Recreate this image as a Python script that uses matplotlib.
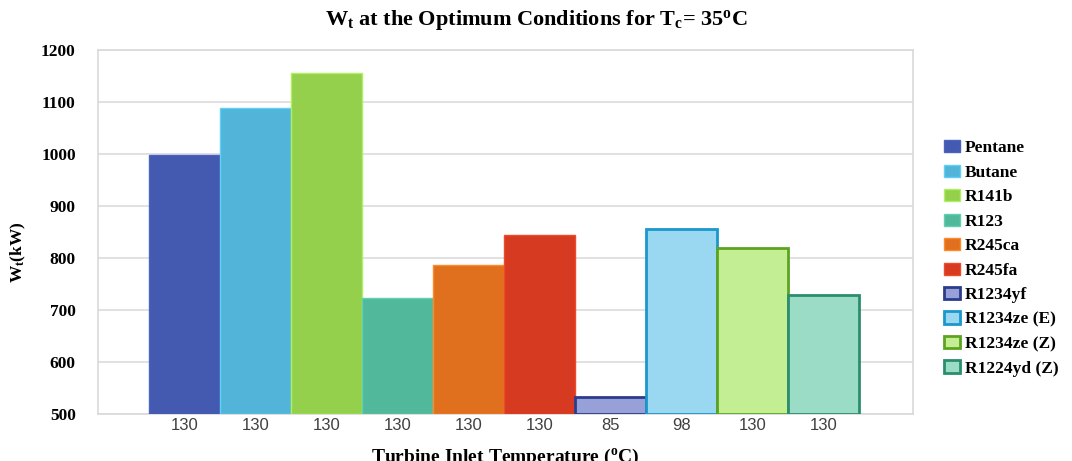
import matplotlib.pyplot as plt
from matplotlib.patches import Patch

plt.rcParams['font.family'] = ['Liberation Serif', 'DejaVu Serif']
plt.rcParams['mathtext.fontset'] = 'custom'
plt.rcParams['mathtext.rm'] = 'Liberation Serif:bold'
plt.rcParams['mathtext.it'] = 'Liberation Serif:bold'
plt.rcParams['mathtext.bf'] = 'Liberation Serif:bold'

fluids = ['Pentane', 'Butane', 'R141b', 'R123', 'R245ca', 'R245fa',
          'R1234yf', 'R1234ze (E)', 'R1234ze (Z)', 'R1224yd (Z)']
work = [999, 1088, 1156, 723, 786, 845, 532, 855, 819, 728]
tit = ['130', '130', '130', '130', '130', '130', '85', '98', '130', '130']
face_colors = ['#4459b0', '#52b4d8', '#94d04c', '#52b89c', '#e0701e', '#d63a20',
               '#98a0d8', '#9ad8f2', '#c4ee94', '#9adcc6']
edge_colors = ['#4a62c0', '#60d0f8', '#b0f060', '#60d0b0', '#ff8a2a', '#f04a2a',
               '#2c3c8c', '#1a98cc', '#5ca420', '#2a8e6e']
edge_widths = [1, 1, 1, 1, 1, 1, 2, 2, 2, 2]

fig = plt.figure(figsize=(10.72, 4.61), dpi=100)
ax = fig.add_axes([0.0914, 0.102, 0.7603, 0.7895])

x = list(range(len(fluids)))
ax.bar(x, [w - 500 for w in work], bottom=500, width=1.0,
       color=face_colors, edgecolor=edge_colors, linewidth=edge_widths, zorder=3)

ax.set_ylim(500, 1200)
ax.set_xlim(-1.22, 10.26)
ax.set_yticks(range(500, 1201, 100))
ax.yaxis.grid(True, color='#dcdcdc', linewidth=1.2, zorder=0)
for s in ax.spines.values():
    s.set_color('#d9d9d9')
    s.set_linewidth(1.2)
ax.tick_params(axis='both', length=0)
ax.tick_params(axis='y', pad=16, labelsize=12.5)
for lab in ax.get_yticklabels():
    lab.set_fontweight('bold')

ax.set_xticks(x)
ax.set_xticklabels(tit, family='Liberation Sans', fontsize=12, color='#404040')
ax.tick_params(axis='x', pad=3)

ax.set_ylabel(r'W$_\mathrm{t}$(kW)', fontsize=12.5, fontweight='bold')
ax.yaxis.set_label_coords(-0.086, 0.445)
ax.set_xlabel(r'Turbine Inlet Temperature ($^\mathrm{o}$C)', fontsize=14,
              fontweight='bold', labelpad=10)

fig.text(0.5, 0.957, r'W$_\mathrm{t}$ at the Optimum Conditions for T$_\mathrm{c}$= 35$^\mathrm{o}$C',
         ha='center', va='center', fontsize=16, fontweight='bold')

handles = [Patch(facecolor=fc, edgecolor=ec, linewidth=lw)
           for fc, ec, lw in zip(face_colors, edge_colors, edge_widths)]
fig.legend(handles, fluids, loc='upper left', bbox_to_anchor=(0.866, 0.73),
           frameon=False, prop={'family': 'Liberation Serif', 'weight': 'bold', 'size': 12.5},
           handlelength=0.9, handleheight=0.7, handletextpad=0.3, labelspacing=0.48)

fig.savefig('out.png', dpi=100)
